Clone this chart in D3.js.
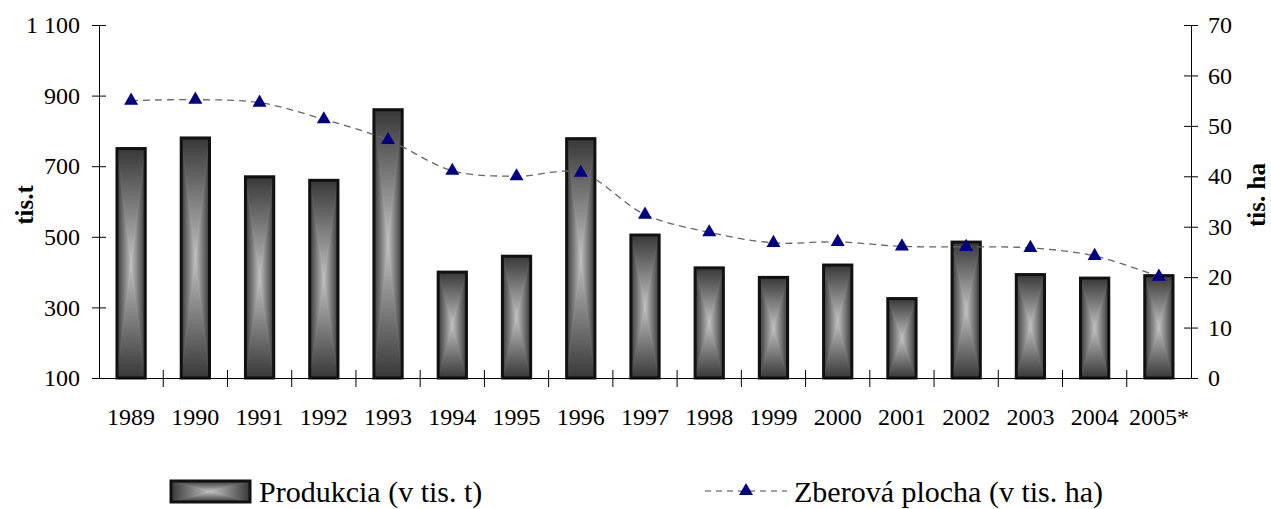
<!DOCTYPE html>
<html>
<head>
<meta charset="utf-8">
<script src="https://cdn.jsdelivr.net/npm/d3@7"></script>
<style>
  body { margin: 0; background: #fff; }
  svg text { font-family: "Liberation Serif", "Times New Roman", Times, "DejaVu Serif", serif; fill: #000; }
</style>
</head>
<body>
<div id="graph"></div>
<script>
var years      = ['1989','1990','1991','1992','1993','1994','1995','1996','1997','1998','1999','2000','2001','2002','2003','2004','2005*']
var produkcia  = [750, 780, 670, 660, 860, 400, 445, 778, 505, 412, 385, 420, 325, 485, 393, 383, 390]   // tis. t
var plocha     = [55, 55.2, 54.6, 51.3, 47.2, 41.1, 40, 40.7, 32.4, 28.9, 26.8, 27, 26.1, 26, 25.8, 24.2, 20.1] // tis. ha
var leftTicks  = [100, 300, 500, 700, 900, 1100]
var rightTicks = [0, 10, 20, 30, 40, 50, 60, 70]
var labels     = { left: 'tis.t', right: 'tis. ha', bars: 'Produkcia (v tis. t)', line: 'Zberová plocha (v tis. ha)' }

var serif = '"Liberation Serif", "Times New Roman", Times, "DejaVu Serif", serif'
var width = 1271, height = 509
var m = { left: 99, right: 80, top: 25, bottom: 131 }   // plot box 99..1191 x 25..378

var svg = d3.select('#graph').append('svg')
  .attr('width', width)
  .attr('height', height)
  .attr('font-family', serif)

var x = d3.scaleBand().domain(years).range([m.left, width - m.right])
var yL = d3.scaleLinear().domain([100, 1100]).range([height - m.bottom, m.top])
var yR = d3.scaleLinear().domain([0, 70]).range([height - m.bottom, m.top])

var fmt = d3.formatLocale({ decimal: ',', thousands: ' ', grouping: [3], currency: ['', ''] }).format(',')

// "from center" fill: dark at the edges, light in the middle
var defs = svg.append('defs')
function grad(id, x1, y1, x2, y2) {
  var g = defs.append('linearGradient').attr('id', id)
    .attr('x1', x1).attr('y1', y1).attr('x2', x2).attr('y2', y2)
  g.append('stop').attr('offset', '0%').attr('stop-color', '#383838')
  g.append('stop').attr('offset', '50%').attr('stop-color', '#7c7c7c')
  g.append('stop').attr('offset', '100%').attr('stop-color', '#c0c0c0')
}
grad('gTop', 0, 0, 0, 1)
grad('gBot', 0, 1, 0, 0)
grad('gLeft', 0, 0, 1, 0)
grad('gRight', 1, 0, 0, 0)

// rectangle painted as four triangles meeting in the centre
function rectFill(g, x0, y0, w, h) {
  var cx = x0 + w / 2, cy = y0 + h / 2
  var x1 = x0 + w, y1 = y0 + h
  var parts = [
    [[[x0, y0], [x1, y0], [cx, cy]], 'gTop'],
    [[[x0, y1], [x1, y1], [cx, cy]], 'gBot'],
    [[[x0, y0], [cx, cy], [x0, y1]], 'gLeft'],
    [[[x1, y0], [cx, cy], [x1, y1]], 'gRight']
  ]
  parts.forEach(p => {
    g.append('polygon').attr('points', p[0].join(' '))
      .attr('fill', `url(#${p[1]})`).attr('stroke', `url(#${p[1]})`).attr('stroke-width', 0.8)
  })
  g.append('rect').attr('x', x0).attr('y', y0).attr('width', w).attr('height', h)
    .attr('fill', 'none').attr('stroke', '#111').attr('stroke-width', 3)
}

// bars
var bw = x.bandwidth() * 0.44
var barG = svg.append('g')
years.forEach((yr, i) => {
  var bx = x(yr) + (x.bandwidth() - bw) / 2
  var top = yL(produkcia[i])
  rectFill(barG.append('g'), bx, top, bw, yL(100) - top)
})

// axes
var axL = svg.append('g').attr('transform', `translate(${m.left},0)`)
  .call(d3.axisLeft(yL).tickValues(leftTicks).tickFormat(fmt).tickSizeInner(7).tickSizeOuter(0).tickPadding(12))
axL.selectAll('.tick line').attr('x1', 7)
var axR = svg.append('g').attr('transform', `translate(${width - m.right},0)`)
  .call(d3.axisRight(yR).tickValues(rightTicks).tickSizeInner(7).tickSizeOuter(0).tickPadding(10))
axR.selectAll('.tick line').attr('x1', -7)
var axB = svg.append('g').attr('transform', `translate(0,${yL(100)})`)
  .call(d3.axisBottom(x).tickSize(0).tickPadding(28))
axB.selectAll('.tick line').remove()
axB.selectAll('.cat').data(years.slice(1)).enter().append('line')
  .attr('x1', d => x(d)).attr('x2', d => x(d)).attr('y1', -8).attr('y2', 9)
  .attr('stroke', '#000')
;[axL, axR, axB].forEach(a => {
  a.attr('font-family', serif).attr('font-size', 24)
  a.select('.domain').attr('stroke', '#000')
  a.selectAll('text').attr('fill', '#000')
})
axB.selectAll('text').attr('dy', null).attr('y', 47)

// axis titles
svg.append('text').attr('transform', 'translate(33,205) rotate(-90)')
  .attr('text-anchor', 'middle').attr('font-size', 25).attr('font-weight', 'bold').text(labels.left)
svg.append('text').attr('transform', 'translate(1265,195) rotate(-90)')
  .attr('text-anchor', 'middle').attr('font-size', 25).attr('font-weight', 'bold').text(labels.right)

// line
var cx = d => x(d) + x.bandwidth() / 2
var line = d3.line().curve(d3.curveCatmullRom.alpha(0.5))
  .x((d, i) => cx(years[i])).y(d => yR(d))
svg.append('path').datum(plocha).attr('d', line)
  .attr('fill', 'none').attr('stroke', '#666').attr('stroke-width', 1.3).attr('stroke-dasharray', '7,5')

var tri = d3.symbol().type(d3.symbolTriangle).size(85)
svg.selectAll('.mk').data(plocha).enter().append('path')
  .attr('d', tri)
  .attr('transform', (d, i) => `translate(${cx(years[i])},${yR(d)})`)
  .attr('fill', '#000080')

// legend
var lg = svg.append('g')
rectFill(lg.append('g'), 171, 481, 79, 21)
lg.append('text').attr('x', 259).attr('y', 502).attr('font-size', 30).text(labels.bars)
lg.append('line').attr('x1', 705).attr('x2', 787).attr('y1', 491).attr('y2', 491)
  .attr('stroke', '#444').attr('stroke-width', 1).attr('stroke-dasharray', '6,5')
lg.append('path').attr('d', tri).attr('transform', 'translate(746,491)').attr('fill', '#000080')
lg.append('text').attr('x', 794).attr('y', 502).attr('font-size', 30).text(labels.line)
</script>
</body>
</html>
